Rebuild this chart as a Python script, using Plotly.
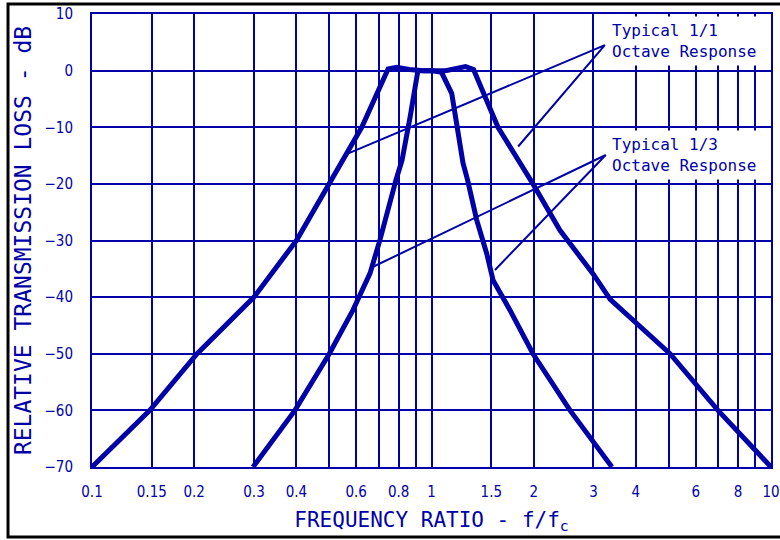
import math
import plotly.graph_objects as go

# ---- data ----
oct_f = [0.1, 0.148, 0.204, 0.3, 0.4, 0.5, 0.623, 0.745, 0.79, 0.86, 0.95, 1.1, 1.2, 1.26, 1.33,
         1.57, 1.99, 2.39, 3.0, 3.36, 5.04, 6.98, 10]
oct_db = [-70, -60, -50, -40, -30, -20, -10, 0.3, 0.6, 0.2, 0, 0, 0.5, 0.7, 0.2,
          -10, -20, -28.2, -36, -40.4, -50, -60, -70]

third_f = [0.298, 0.396, 0.5, 0.587, 0.659, 0.705, 0.786, 0.819, 0.865, 0.894, 0.912, 1.0, 1.07,
           1.147, 1.187, 1.238, 1.277, 1.359, 1.454, 1.518, 1.703, 1.99, 2.559, 3.40]
third_db = [-70, -60, -50, -42.3, -35.8, -29.9, -19.3, -15.8, -8.2, -2.2, 0, 0, -0.3,
            -4, -9.9, -16.3, -19.3, -26.4, -32.3, -37, -42.3, -50, -60, -70]

x_grid = [0.1, 0.15, 0.2, 0.3, 0.4, 0.5, 0.6, 0.7, 0.8, 0.9, 1, 1.5, 2, 3, 4, 5, 6, 7, 8, 9, 10]
x_labels = ["0.1", "0.15", "0.2", "0.3", "0.4", "", "0.6", "", "0.8", "", "1", "1.5", "2", "3", "4",
            "", "6", "", "8", "", "10"]
y_ticks = [10, 0, -10, -20, -30, -40, -50, -60, -70]

# callout leader lines: (text anchor) -> curve points
lead_oct_f = [0.569, 3.24, 1.80]
lead_oct_db = [-14.6, 4.5, -13.4]
lead_third_f = [0.659, 3.26, 1.538]
lead_third_db = [-34.9, -14.9, -35.2]

label_oct = "Typical 1/1<br>Octave Response"
label_third = "Typical 1/3<br>Octave Response"

BLUE = "#0000A8"
MONO = "DejaVu Sans Mono"
TICKF = "DejaVu Sans Condensed, Liberation Sans"

fig = go.Figure()
for fx, fy in [(lead_oct_f, lead_oct_db), (lead_third_f, lead_third_db)]:
    fig.add_trace(go.Scatter(x=fx, y=fy, mode="lines", line=dict(color=BLUE, width=2),
                             hoverinfo="skip", showlegend=False))
fig.add_trace(go.Scatter(x=oct_f, y=oct_db, mode="lines", name="1/1 Octave",
                         line=dict(color=BLUE, width=5), showlegend=False))
fig.add_trace(go.Scatter(x=third_f, y=third_db, mode="lines", name="1/3 Octave",
                         line=dict(color=BLUE, width=5), showlegend=False))

for txt, xv, yv in [(label_oct, 3.29, 5.3), (label_third, 3.29, -14.9)]:
    fig.add_annotation(x=math.log10(xv), y=yv, xref="x", yref="y", text=txt, showarrow=False,
                       xanchor="left", yanchor="middle", align="left",
                       font=dict(family=MONO, size=16, color=BLUE),
                       bgcolor="white", borderpad=4)

# outer frame
fig.add_shape(type="rect", xref="paper", yref="paper", x0=-0.1237, x1=1.05, y0=-0.1545, y1=1.0221,
              line=dict(color="black", width=3), fillcolor="rgba(0,0,0,0)", layer="above")

fig.update_layout(
    width=780, height=540,
    margin=dict(l=92, r=9, t=14, b=73),
    paper_bgcolor="white", plot_bgcolor="white",
    xaxis=dict(type="log", range=[-1, 1], tickvals=x_grid, ticktext=x_labels, automargin=False,
               showgrid=True, gridcolor=BLUE, gridwidth=2, zeroline=False,
               showline=True, linecolor=BLUE, linewidth=2, mirror=True,
               ticks="", ticklabelstandoff=10, ticklabeloverflow="allow",
               tickfont=dict(family=TICKF, size=15, color=BLUE),
               title=dict(text="FREQUENCY RATIO - f/f<sub>c</sub>", standoff=12,
                          font=dict(family=MONO, size=21, color=BLUE))),
    yaxis=dict(range=[-70, 10], tickvals=y_ticks, automargin=False,
               showgrid=True, gridcolor=BLUE, gridwidth=2, zeroline=False,
               showline=True, linecolor=BLUE, linewidth=2, mirror=True,
               ticks="", ticklabelstandoff=14, ticklabeloverflow="allow",
               tickfont=dict(family=TICKF, size=15, color=BLUE),
               title=dict(text="RELATIVE TRANSMISSION LOSS - dB", standoff=6,
                          font=dict(family=MONO, size=23, color=BLUE))),
)

fig.write_html("out.html", config={"displayModeBar": False},
               post_script="document.body.style.margin='0';")
